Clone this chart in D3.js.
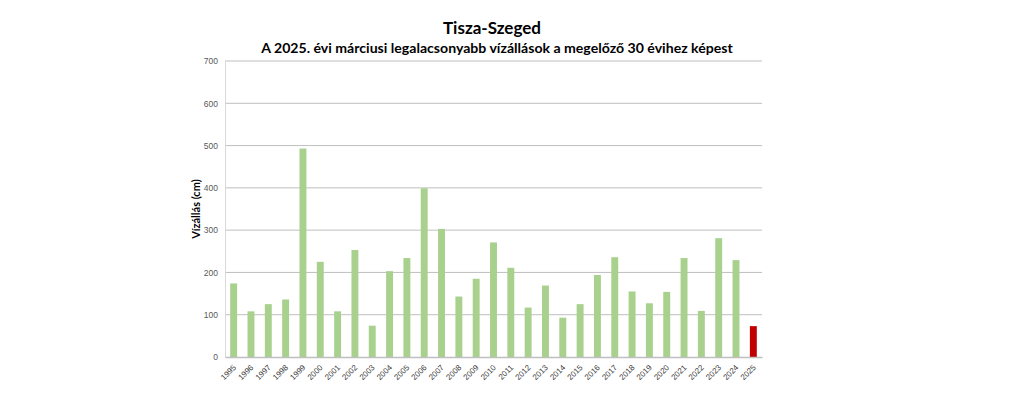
<!DOCTYPE html>
<html>
<head>
  <meta charset="utf-8">
  <script src="https://cdnjs.cloudflare.com/ajax/libs/d3/7.8.5/d3.min.js"></script>
  <style>
    body { margin: 0; background: #fff; }
    svg { display: block; font-family: "Lato", "Open Sans", sans-serif; }
  </style>
</head>
<body>
<div id="chart"></div>
<script>
// years and water levels (cm), lowest March value each year
var years = ['1995','1996','1997','1998','1999','2000','2001','2002','2003','2004',
             '2005','2006','2007','2008','2009','2010','2011','2012','2013','2014',
             '2015','2016','2017','2018','2019','2020','2021','2022','2023','2024','2025'];
var levels = [174, 108, 125, 136, 493, 225, 108, 253, 74, 203,
              234, 399, 303, 143, 185, 271, 211, 117, 169, 93,
              125, 194, 236, 155, 127, 154, 234, 109, 281, 229, 73];
var yTicks = [0, 100, 200, 300, 400, 500, 600, 700];

var width = 1013, height = 393;
var margin = {top: 61, right: 251, bottom: 36, left: 225};

var svg = d3.select('#chart').append('svg')
    .attr('width', width)
    .attr('height', height);

var x = d3.scaleBand()
    .domain(years)
    .range([margin.left, width - margin.right])
    .paddingInner(0.6)
    .paddingOuter(0.3);

var y = d3.scaleLinear()
    .domain([0, 700])
    .range([height - margin.bottom, margin.top]);

//----------------------------------------
// gridlines
svg.append('g')
    .selectAll('line')
    .data(yTicks.slice(1))
    .enter().append('line')
    .attr('x1', margin.left).attr('x2', width - margin.right)
    .attr('y1', function(d) { return y(d); })
    .attr('y2', function(d) { return y(d); })
    .style('stroke', '#bfbfbf')
    .style('stroke-width', 1);

// y axis
var yAxis = svg.append('g')
    .attr('transform', 'translate(' + margin.left + ',0)')
    .call(d3.axisLeft(y).tickValues(yTicks).tickSize(0).tickPadding(7));
yAxis.select('.domain').style('stroke', '#d9d9d9');
yAxis.selectAll('text')
    .style('font-size', '8.5px')
    .style('fill', '#595959');

// bars
svg.append('g')
    .selectAll('rect')
    .data(levels)
    .enter().append('rect')
    .attr('x', function(d, i) { return x(years[i]); })
    .attr('width', x.bandwidth())
    .attr('y', function(d) { return y(d); })
    .attr('height', function(d) { return y(0) - y(d); })
    .style('fill', function(d, i) { return years[i] === '2025' ? '#c00000' : '#a9d18e'; });

// x axis
var xAxis = svg.append('g')
    .attr('transform', 'translate(0,' + y(0) + ')')
    .call(d3.axisBottom(x).tickSize(0));
xAxis.select('.domain').style('stroke', '#bfbfbf').style('stroke-width', 1.5);
xAxis.selectAll('text')
    .style('font-size', '8px')
    .style('fill', '#404040')
    .style('text-anchor', 'end')
    .attr('x', 0)
    .attr('y', 0)
    .attr('dy', '0.35em')
    .attr('transform', 'translate(1,9) rotate(-45)');

//----------------------------------------
// titles
svg.append('text')
    .attr('x', 492).attr('y', 34)
    .attr('text-anchor', 'middle')
    .style('font-size', '17px')
    .style('font-weight', 'bold')
    .text('Tisza-Szeged');

svg.append('text')
    .attr('x', 497).attr('y', 53)
    .attr('text-anchor', 'middle')
    .style('font-size', '14.1px')
    .style('font-weight', 'bold')
    .text('A 2025. évi márciusi legalacsonyabb vízállások a megelőző 30 évihez képest');

svg.append('text')
    .attr('transform', 'translate(200,' + ((margin.top + height - margin.bottom) / 2) + ') rotate(-90)')
    .attr('text-anchor', 'middle')
    .style('font-size', '11px')
    .style('font-weight', 'bold')
    .text('Vízállás (cm)');
</script>
</body>
</html>
